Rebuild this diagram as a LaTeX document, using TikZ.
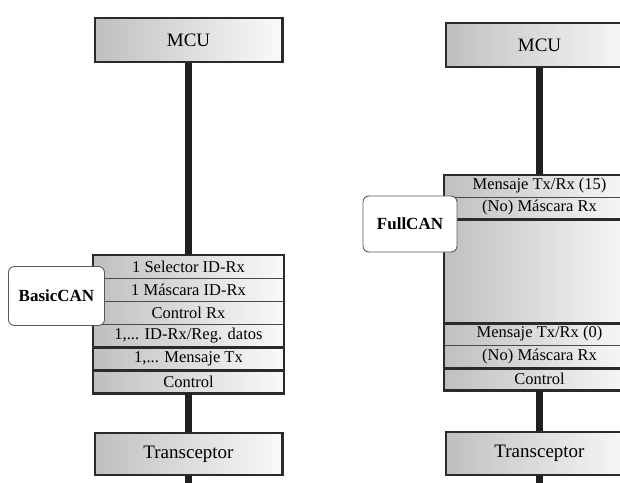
\documentclass[tikz,border=0pt]{standalone}
\usepackage{fontspec}
\setmainfont{Liberation Serif}
\definecolor{ink}{HTML}{231F20}
\definecolor{edge}{HTML}{2A2A2A}
\begin{document}
\begin{tikzpicture}[x=1pt,y=-1pt,
  shadebox/.style={left color=gray!50, right color=white!96!gray, inner sep=0pt, anchor=center},
  unit/.style={shadebox, draw=edge, line width=2.2pt, minimum width=187.8pt,
    font=\fontsize{19}{22}\selectfont},
  row/.style={shadebox, draw=edge!85, line width=0.8pt, minimum width=190pt,
    font=\fontsize{16.5}{18}\selectfont},
  frame/.style={draw=edge, line width=2.2pt},
  sep/.style={draw=edge, line width=2.2pt},
  bus/.style={draw=ink, line width=6.5pt},
  tag/.style={draw=black!65, line width=0.9pt, fill=white, rounded corners=6pt,
    inner sep=0pt, font=\bfseries\fontsize{17}{20}\selectfont}
]
\useasboundingbox (0,0) rectangle (620,482);
\clip (0,0) rectangle (620,482);

% ---------- BasicCAN column ----------
\node[unit, minimum height=43.8pt] (mcuL) at (188.5,40) {MCU};
\node[row, minimum height=23pt] (l1) at (188.5,266.5) {1 Selector ID-Rx};
\node[row, minimum height=23pt] (l2) at (188.5,289.5) {1 Máscara ID-Rx};
\node[row, minimum height=23pt] (l3) at (188.5,312.5) {Control Rx};
\node[row, minimum height=23pt] (l4) at (188.5,335.5) {1,... ID-Rx/Reg. datos};
\node[row, minimum height=23pt] (l5) at (188.5,358.5) {1,... Mensaje Tx};
\node[row, minimum height=23pt] (l6) at (188.5,381.5) {Control};
\node[unit, minimum height=41.8pt] (trL) at (188.5,454) {Transceptor};
\coordinate (endL) at (188.5,495);

\draw[frame] (l1.north west) rectangle (l6.south east);
\draw[sep] (l4.south west) -- (l4.south east);
\draw[sep] (l5.south west) -- (l5.south east);

\draw[bus] (mcuL.south) -- (l1.north);
\draw[bus] (l6.south) -- (trL.north);
\draw[bus] (trL.south) -- (endL);

\node[tag, minimum width=96pt, minimum height=59pt] (basic) at (56.5,296) {BasicCAN};

% ---------- FullCAN column ----------
\node[unit, minimum height=43.8pt] (mcuR) at (539.5,45) {MCU};
\node[row, minimum height=22pt] (r1) at (539.5,186) {Mensaje Tx/Rx (15)};
\node[row, minimum height=22pt] (r2) at (539.5,208) {(No) Máscara Rx};
\node[row, minimum height=104pt] (r3) at (539.5,271) {};
\node[row, minimum height=22pt] (r4) at (539.5,334) {Mensaje Tx/Rx (0)};
\node[row, minimum height=23pt] (r5) at (539.5,356.5) {(No) Máscara Rx};
\node[row, minimum height=22pt] (r6) at (539.5,379) {Control};
\node[unit, minimum height=42.8pt] (trR) at (539.5,453.5) {Transceptor};
\coordinate (endR) at (539.5,495);

\draw[frame] (r1.north west) rectangle (r6.south east);
\draw[sep] (r2.south west) -- (r2.south east);
\draw[sep] (r3.south west) -- (r3.south east);
\draw[sep] (r5.south west) -- (r5.south east);

\draw[bus] (mcuR.south) -- (r1.north);
\draw[bus] (r6.south) -- (trR.north);
\draw[bus] (trR.south) -- (endR);

\node[tag, minimum width=94pt, minimum height=56pt] (full) at (410,224) {FullCAN};
\end{tikzpicture}
\end{document}
